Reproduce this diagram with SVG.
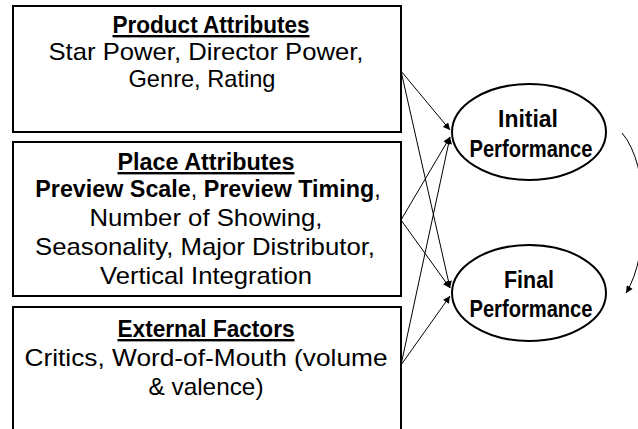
<svg xmlns="http://www.w3.org/2000/svg" width="638" height="429" viewBox="0 0 638 429">
  <style>
    .box { fill: #ffffff; stroke: #000000; stroke-width: 2; }
    .oval { fill: #ffffff; stroke: #000000; stroke-width: 2; }
    .t { font-family: "Liberation Sans", Arial, sans-serif; font-size: 24px; fill: #000000; text-anchor: middle; }
    .b { font-weight: bold; }
    .u { text-decoration: underline; }
    .e { font-size: 23px; }
    .link { fill: none; stroke: #000000; stroke-width: 1; marker-end: url(#arrow); }
  </style>
  <defs>
    <marker id="arrow" viewBox="0 0 10 10" refX="10" refY="5" markerWidth="8" markerHeight="7" markerUnits="userSpaceOnUse" orient="auto">
      <path d="M0,0 L10,5 L0,10 z" fill="#000000"/>
    </marker>
  </defs>

  <!-- connectors -->
  <g id="connectors">
    <line class="link" x1="401" y1="71" x2="450" y2="130"/>
    <line class="link" x1="401" y1="71" x2="450" y2="288"/>
    <line class="link" x1="401" y1="220" x2="450" y2="137"/>
    <line class="link" x1="401" y1="220" x2="450" y2="288"/>
    <line class="link" x1="401" y1="365" x2="450" y2="137"/>
    <line class="link" x1="401" y1="365" x2="450" y2="296"/>
    <path class="link" d="M622,133 C650,165 650,255 626,293"/>
  </g>

  <g id="product">
    <rect class="box" x="13" y="6" width="388" height="126"/>
    <text class="t b u" x="211" y="33" textLength="197" lengthAdjust="spacingAndGlyphs">Product Attributes</text>
    <text class="t" x="206" y="60" textLength="315" lengthAdjust="spacingAndGlyphs">Star Power, Director Power,</text>
    <text class="t" x="202" y="87" textLength="147" lengthAdjust="spacingAndGlyphs">Genre, Rating</text>
  </g>

  <g id="place">
    <rect class="box" x="13" y="142" width="388" height="154"/>
    <text class="t b u" x="206" y="170" textLength="177" lengthAdjust="spacingAndGlyphs">Place Attributes</text>
    <text class="t" x="208" y="197" style="font-size:23.3px"><tspan class="b">Preview Scale</tspan>, <tspan class="b">Preview Timing</tspan>,</text>
    <text class="t" x="206" y="226" textLength="233" lengthAdjust="spacingAndGlyphs">Number of Showing,</text>
    <text class="t" x="205" y="255" textLength="340" lengthAdjust="spacingAndGlyphs">Seasonality, Major Distributor,</text>
    <text class="t" x="206" y="284" textLength="212" lengthAdjust="spacingAndGlyphs">Vertical Integration</text>
  </g>

  <g id="external">
    <rect class="box" x="13" y="307" width="388" height="140"/>
    <text class="t b u" x="206" y="337" textLength="177" lengthAdjust="spacingAndGlyphs">External Factors</text>
    <text class="t" x="206" y="366" textLength="363" lengthAdjust="spacingAndGlyphs">Critics, Word-of-Mouth (volume</text>
    <text class="t" x="206" y="395" textLength="115" lengthAdjust="spacingAndGlyphs">&amp; valence)</text>
  </g>

  <g id="initial">
    <ellipse class="oval" cx="529" cy="132" rx="77" ry="48"/>
    <text class="t b e" x="528" y="127" textLength="60" lengthAdjust="spacingAndGlyphs">Initial</text>
    <text class="t b e" x="531" y="157" textLength="123" lengthAdjust="spacingAndGlyphs">Performance</text>
  </g>

  <g id="final">
    <ellipse class="oval" cx="529" cy="293" rx="77" ry="48"/>
    <text class="t b e" x="529" y="288" textLength="50" lengthAdjust="spacingAndGlyphs">Final</text>
    <text class="t b e" x="531" y="317" textLength="123" lengthAdjust="spacingAndGlyphs">Performance</text>
  </g>
</svg>
